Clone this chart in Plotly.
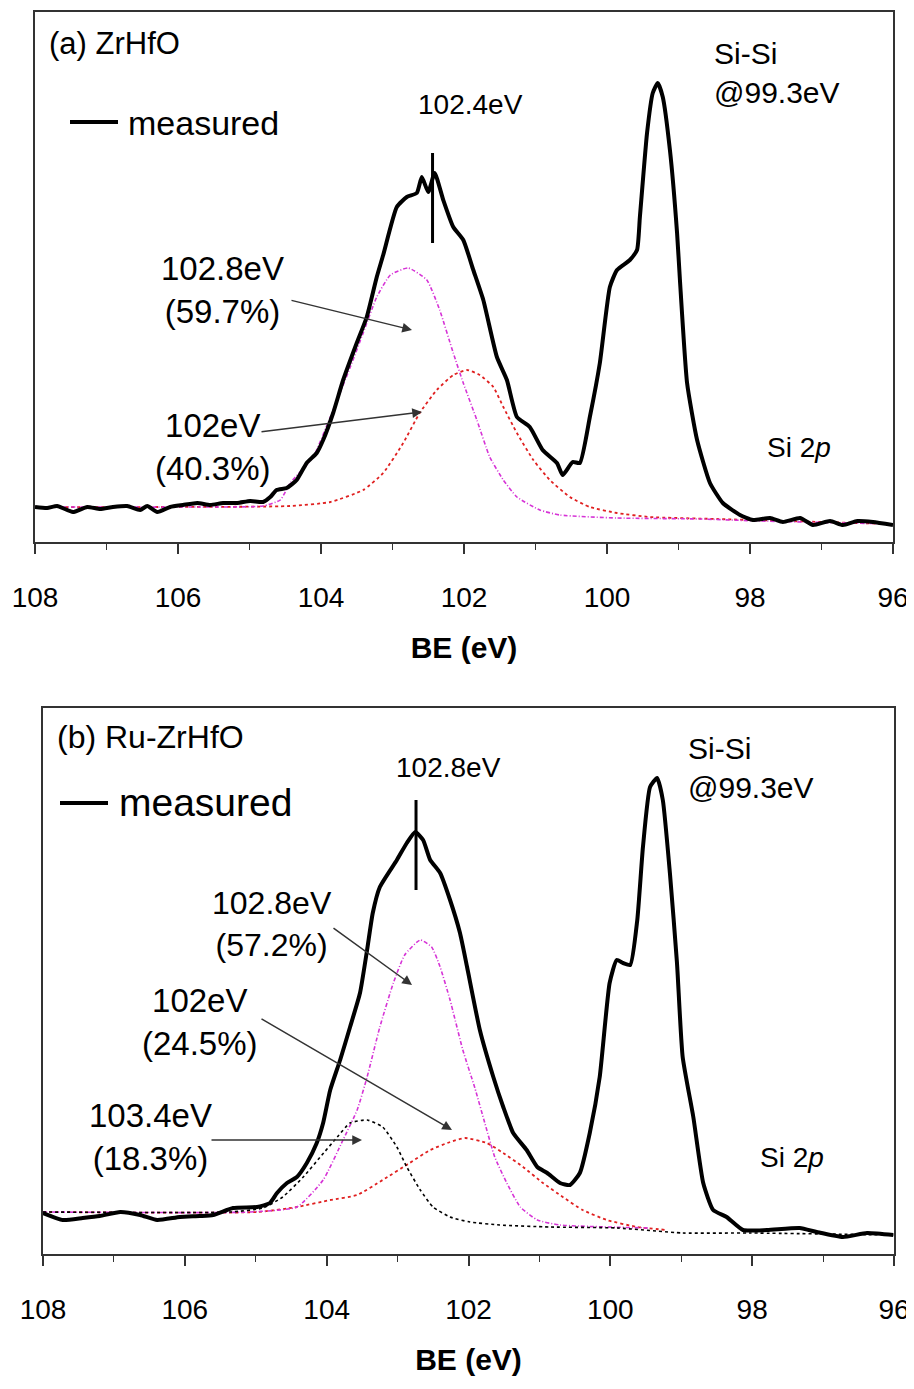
import plotly.graph_objects as go

# ---------------- data (BE in eV, intensity in arbitrary units) ----------------
# Panel (a) ZrHfO
a_meas_be = [108.00, 107.83, 107.69, 107.47, 107.27, 107.09, 106.91, 106.71, 106.53, 106.43,
             106.29, 106.11, 105.93, 105.73, 105.55, 105.37, 105.17, 104.99, 104.81, 104.71,
             104.62, 104.48, 104.34, 104.20, 104.06, 103.97, 103.83, 103.69, 103.50, 103.36,
             103.22, 103.13, 102.94, 102.80, 102.66, 102.59, 102.50, 102.41, 102.29, 102.15,
             102.01, 101.87, 101.73, 101.54, 101.40, 101.26, 101.08, 100.90, 100.70, 100.62,
             100.48, 100.38, 100.24, 100.10, 99.96, 99.86, 99.68, 99.58, 99.54, 99.44,
             99.36, 99.29, 99.22, 99.12, 99.02, 98.98, 98.88, 98.74, 98.56, 98.38,
             98.14, 97.96, 97.72, 97.54, 97.30, 97.12, 96.88, 96.70, 96.50, 96.28, 96.00]
a_meas_int = [35, 34, 36, 30, 35, 33, 35, 36, 32, 36,
              30, 35, 37, 39, 37, 39, 39, 41, 40, 45,
              52, 54, 62, 79, 89, 102, 129, 162, 199, 225,
              265, 287, 335, 345, 349, 365, 350, 369, 342, 315,
              302, 272, 242, 185, 162, 125, 115, 92, 79, 67,
              80, 79, 125, 179, 255, 272, 282, 292, 325, 409,
              449, 459, 445, 392, 309, 262, 159, 102, 59, 39,
              27, 22, 24, 20, 24, 17, 21, 17, 21, 20, 17]

a_fit1_be = [108.00, 105.69, 104.81, 104.57, 104.43, 104.11, 103.87, 103.59, 103.41, 103.22,
             103.03, 102.78, 102.52, 102.34, 102.15, 102.01, 101.82, 101.64, 101.45, 101.26,
             100.94, 100.66, 99.86, 98.70, 97.86, 96.00]
a_fit1_int = [35, 35, 36, 42, 59, 85, 125, 175, 209, 245,
              267, 274, 262, 232, 189, 159, 122, 85, 62, 45,
              32, 27, 24, 23, 21, 18]

a_fit2_be = [108.00, 104.43, 103.87, 103.41, 103.13, 102.85, 102.62, 102.38, 102.15, 101.96,
             101.78, 101.59, 101.45, 101.26, 101.03, 100.80, 100.52, 100.24, 99.86, 99.40,
             98.46, 96.00]
a_fit2_int = [35, 36, 40, 52, 69, 99, 129, 152, 167, 172,
              167, 155, 135, 109, 82, 62, 45, 35, 29, 25,
              23, 18]

# Panel (b) Ru-ZrHfO
b_meas_be = [108.00, 107.72, 107.44, 107.20, 106.91, 106.63, 106.39, 106.07, 105.79, 105.60,
             105.32, 104.98, 104.80, 104.70, 104.56, 104.42, 104.28, 104.14, 104.05, 103.95,
             103.81, 103.67, 103.53, 103.43, 103.35, 103.25, 103.01, 102.87, 102.75, 102.64,
             102.54, 102.40, 102.26, 102.12, 102.02, 101.84, 101.65, 101.51, 101.37, 101.18,
             101.03, 100.89, 100.71, 100.57, 100.43, 100.29, 100.15, 100.01, 99.91, 99.82,
             99.72, 99.62, 99.54, 99.44, 99.34, 99.26, 99.16, 99.06, 98.98, 98.83,
             98.69, 98.55, 98.36, 98.13, 97.79, 97.33, 97.09, 96.72, 96.38, 96.01]
b_meas_int = [41, 34, 36, 38, 42, 39, 34, 37, 38, 39,
              46, 47, 51, 61, 71, 77, 91, 111, 131, 164,
              194, 227, 261, 304, 341, 367, 394, 411, 422, 414,
              394, 381, 354, 321, 287, 224, 177, 147, 121, 104,
              87, 81, 71, 69, 81, 121, 177, 271, 294, 291,
              289, 334, 407, 467, 476, 454, 381, 291, 197, 137,
              71, 44, 37, 24, 24, 26, 22, 17, 21, 19]

b_fit1_be = [108.00, 105.08, 104.42, 104.05, 103.77, 103.57, 103.43, 103.25, 103.06, 102.90,
             102.68, 102.52, 102.40, 102.26, 102.08, 101.91, 101.77, 101.63, 101.46, 101.27,
             101.03, 100.71, 99.44]
b_fit1_int = [42, 42, 47, 74, 114, 144, 177, 227, 271, 299,
              314, 307, 287, 254, 204, 166, 131, 97, 71, 47,
              34, 29, 26]

b_fit2_be = [108.00, 104.98, 104.42, 103.95, 103.57, 103.21, 102.83, 102.54, 102.26, 102.05,
             101.74, 101.51, 101.23, 100.95, 100.67, 100.39, 100.05, 99.62, 99.20]
b_fit2_int = [42, 42, 47, 54, 59, 74, 91, 104, 112, 116,
              111, 101, 87, 71, 57, 44, 34, 27, 24]

b_fit3_be = [108.00, 105.36, 104.90, 104.62, 104.33, 104.09, 103.85, 103.67, 103.43, 103.21,
             103.01, 102.87, 102.68, 102.50, 102.26, 101.98, 101.56, 100.85, 99.91, 98.98,
             98.03, 96.01]
b_fit3_int = [42, 42, 46, 57, 77, 97, 117, 131, 134, 127,
              107, 87, 64, 47, 37, 32, 29, 27, 26, 21,
              21, 19]

x_ticks = [108, 106, 104, 102, 100, 98, 96]
panel_labels = ["(a) ZrHfO", "(b) Ru-ZrHfO"]
main_peaks = [102.44, 102.74]
main_peak_labels = ["102.4eV", "102.8eV"]

# ---------------- figure ----------------
W, H = 914, 1389
OX, OY = 8, 8          # page body margin offset of the plot div
ARIAL = "Liberation Sans, Arial, sans-serif"

fig = go.Figure()

MAG = "#D633D6"
RED = "#E02020"

def add_line(x, y, xa, ya, color, width, dash, name):
    fig.add_trace(go.Scatter(x=x, y=y, mode="lines", xaxis=xa, yaxis=ya, name=name,
                             line=dict(color=color, width=width, dash=dash, shape="spline", smoothing=0.5),
                             showlegend=False, hoverinfo="skip"))

# panel a
add_line(a_fit2_be, a_fit2_int, "x", "y", RED, 1.8, "dot", "102eV")
add_line(a_fit1_be, a_fit1_int, "x", "y", MAG, 1.6, "4px,2px,1px,2px", "102.8eV")
add_line(a_meas_be, a_meas_int, "x", "y", "black", 4, "solid", "measured")
# panel b
add_line(b_fit2_be, b_fit2_int, "x2", "y2", RED, 1.8, "dot", "102eV")
add_line(b_fit1_be, b_fit1_int, "x2", "y2", MAG, 1.6, "4px,2px,1px,2px", "102.8eV")
add_line(b_fit3_be, b_fit3_int, "x2", "y2", "black", 1.6, "dot", "103.4eV")
add_line(b_meas_be, b_meas_int, "x2", "y2", "black", 4, "solid", "measured")

# geometry in page pixels
TOP = dict(l=35, r=893, t=12, b=542)
BOT = dict(l=43, r=894, t=708, b=1254)

def xaxis_cfg(dom):
    return dict(domain=[(dom["l"] - OX) / W, (dom["r"] - OX) / W], range=[108, 96], tickvals=x_ticks,
                ticks="outside", ticklen=10, tickwidth=1.5, tickcolor="#333",
                minor=dict(dtick=1, tick0=96, ticks="outside", ticklen=6, tickwidth=1.2, tickcolor="#333"),
                showline=True, linecolor="#333", linewidth=1.5, mirror=True,
                showgrid=False, zeroline=False,
                tickfont=dict(family=ARIAL, size=28, color="black"),
                ticklabelstandoff=20,
                title=dict(text="<b>BE (eV)</b>", font=dict(family=ARIAL, size=30, color="black"), standoff=25),
                automargin=False)

def yaxis_cfg(dom, top):
    return dict(domain=[1 - (dom["b"] - OY) / H, 1 - (dom["t"] - OY) / H], range=[0, top],
                showticklabels=False, ticks="", showgrid=False, zeroline=False,
                showline=True, linecolor="#333", linewidth=1.5, mirror=True, automargin=False)

fig.update_layout(
    width=W, height=H, margin=dict(l=0, r=0, t=0, b=0),
    paper_bgcolor="white", plot_bgcolor="white",
    xaxis=dict(xaxis_cfg(TOP), anchor="y"),
    yaxis=dict(yaxis_cfg(TOP, 530), anchor="x"),
    xaxis2=dict(xaxis_cfg(BOT), anchor="y2"),
    yaxis2=dict(yaxis_cfg(BOT, 546), anchor="x2"),
)

# pixel -> data helpers (layout placement only)
def pa(px, py):
    return 108 - (px - TOP["l"]) * 12 / (TOP["r"] - TOP["l"]), TOP["b"] - py

def pb(px, py):
    return 108 - (px - BOT["l"]) * 12 / (BOT["r"] - BOT["l"]), BOT["b"] - py

ann = []

def text(p, ref, px, py, s, size, xanchor="center", align="center"):
    x, y = p(px, py)
    ann.append(dict(x=x, y=y, xref=ref[0], yref=ref[1], text=s, showarrow=False,
                    xanchor=xanchor, yanchor="middle", align=align,
                    font=dict(family=ARIAL, size=size, color="black")))

def arrow(p, ref, tail, head):
    hx, hy = p(*head)
    tx, ty = p(*tail)
    ann.append(dict(x=hx, y=hy, ax=tx, ay=ty, xref=ref[0], yref=ref[1], axref=ref[0], ayref=ref[1],
                    text="", showarrow=True, arrowhead=2, arrowsize=1.3, arrowwidth=1.5,
                    arrowcolor="#333", standoff=0))

RA = ("x", "y")
RB = ("x2", "y2")

# panel a texts
text(pa, RA, 47, 44, panel_labels[0], 31, xanchor="left")
text(pa, RA, 126, 123, "measured", 34, xanchor="left")
text(pa, RA, 470, 105, main_peak_labels[0], 28)
text(pa, RA, 712, 73, "Si-Si<br>@99.3eV", 30, xanchor="left", align="left")
text(pa, RA, 222, 290, "102.8eV<br>(59.7%)", 33)
text(pa, RA, 213, 447, "102eV<br>(40.3%)", 33)
text(pa, RA, 765, 447, "Si 2<i>p</i>", 28, xanchor="left")
arrow(pa, RA, (290, 300), (412, 330))
arrow(pa, RA, (260, 432), (422, 412))

# panel b texts
text(pb, RB, 55, 737, panel_labels[1], 32, xanchor="left")
text(pb, RB, 117, 802, "measured", 39, xanchor="left")
text(pb, RB, 448, 767, main_peak_labels[1], 28)
text(pb, RB, 686, 768, "Si-Si<br>@99.3eV", 30, xanchor="left", align="left")
text(pb, RB, 272, 924, "102.8eV<br>(57.2%)", 32)
text(pb, RB, 200, 1022, "102eV<br>(24.5%)", 33)
text(pb, RB, 150, 1137, "103.4eV<br>(18.3%)", 33)
text(pb, RB, 758, 1157, "Si 2<i>p</i>", 28, xanchor="left")
arrow(pb, RB, (332, 927), (412, 985))
arrow(pb, RB, (260, 1018), (452, 1130))
arrow(pb, RB, (210, 1140), (362, 1140))

fig.update_layout(annotations=ann)

# peak marker lines and legend line samples
la0, la1 = pa(70, 122), pa(118, 122)
lb0, lb1 = pb(60, 803), pb(108, 803)
shapes = [
    dict(type="line", xref="x", yref="y", x0=main_peaks[0], x1=main_peaks[0],
         y0=TOP["b"] - 243, y1=TOP["b"] - 153, line=dict(color="black", width=3)),
    dict(type="line", xref="x2", yref="y2", x0=main_peaks[1], x1=main_peaks[1],
         y0=BOT["b"] - 890, y1=BOT["b"] - 800, line=dict(color="black", width=3)),
    dict(type="line", xref="x", yref="y", x0=la0[0], x1=la1[0], y0=la0[1], y1=la1[1],
         line=dict(color="black", width=4)),
    dict(type="line", xref="x2", yref="y2", x0=lb0[0], x1=lb1[0], y0=lb0[1], y1=lb1[1],
         line=dict(color="black", width=4)),
]
fig.update_layout(shapes=shapes)

fig.write_html("out.html")
